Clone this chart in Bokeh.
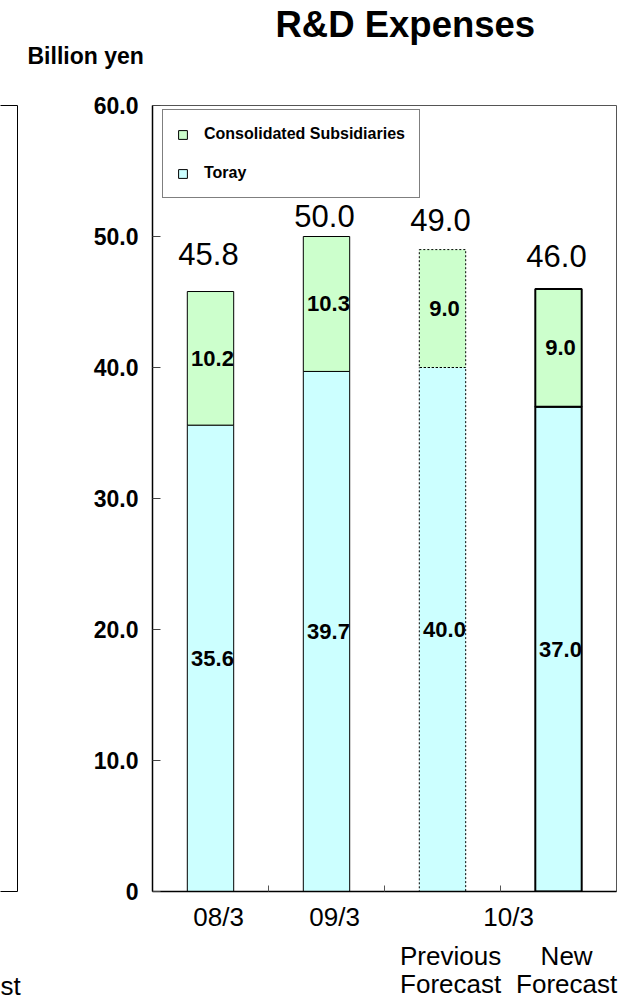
from bokeh.plotting import figure
from bokeh.layouts import row
from bokeh.models import (ColumnDataSource, CDSView, IndexFilter, FixedTicker,
                          LinearAxis, Range1d, Legend, LegendItem, Title)
from bokeh.core.properties import value
from bokeh.embed import file_html
from bokeh.resources import INLINE

FONT = "Liberation Sans"
GREEN = "#CCFFCC"
CYAN = "#CCFFFF"

# ---- data ----
periods = ["08/3", "09/3", "10/3 Previous Forecast", "10/3 New Forecast"]
toray = [35.6, 39.7, 40.0, 37.0]
subsidiaries = [10.2, 10.3, 9.0, 9.0]
totals = [45.8, 50.0, 49.0, 46.0]
year_labels = ["08/3", "09/3", "10/3"]
forecast_labels = ["Previous\nForecast", "New\nForecast"]
y_ticks = [0, 10, 20, 30, 40, 50, 60]

# ---- styles ----
total_label_lift = [38, 21, 30, 33]   # px from bar top to label centre
label_shift = 0.07                     # category label shift (in category widths)

n = len(periods)
xs = [i + 0.5 for i in range(n)]
subs_top = [t + s for t, s in zip(toray, subsidiaries)]
src = ColumnDataSource(dict(
    x=xs,
    toray=toray,
    subs_top=subs_top,
    toray_mid=[t / 2 for t in toray],
    subs_mid=[t + s / 2 for t, s in zip(toray, subsidiaries)],
    toray_txt=[f"{v:.1f}" for v in toray],
    subs_txt=[f"{v:.1f}" for v in subsidiaries],
    total_txt=[f"{v:.1f}" for v in totals],
    total_dy=[-d for d in total_label_lift],
))

p = figure(width=611, height=1003, x_range=Range1d(0, n), y_range=Range1d(0, 60),
           output_backend="svg", toolbar_location=None, title=None,
           min_border_left=130, min_border_right=17, min_border_top=105,
           min_border_bottom=111)
p.xgrid.visible = False
p.ygrid.visible = False
p.outline_line_color = "#555555"
p.outline_line_width = 1
p.background_fill_color = "white"
p.border_fill_color = "white"

styles = [([0, 1], "solid", 1), ([2], "2 2", 1), ([3], "solid", 2)]
legend_refs = {}
for idx, dash, lw in styles:
    view = CDSView(filter=IndexFilter(idx))
    rt = p.vbar(x="x", width=0.4, bottom=0, top="toray", source=src, view=view,
                fill_color=CYAN, line_color="black", line_width=lw, line_dash=dash)
    rs = p.vbar(x="x", width=0.4, bottom="toray", top="subs_top", source=src, view=view,
                fill_color=GREEN, line_color="black", line_width=lw, line_dash=dash)
    if not legend_refs:
        legend_refs = {"t": rt, "s": rs}

# segment labels
for ycol, tcol in (("toray_mid", "toray_txt"), ("subs_mid", "subs_txt")):
    p.text(x="x", y=ycol, text=tcol, source=src, x_offset=2,
           text_font=value(FONT), text_font_style="bold", text_font_size="22px",
           text_align="center", text_baseline="middle", text_color="black")
# totals
p.text(x="x", y="subs_top", text="total_txt", source=src, x_offset=-2, y_offset="total_dy",
       text_font=value(FONT), text_font_size="31px",
       text_align="center", text_baseline="middle", text_color="black")

legend = Legend(items=[LegendItem(label="Consolidated Subsidiaries", renderers=[legend_refs["s"]]),
                       LegendItem(label="Toray", renderers=[legend_refs["t"]])],
                location=(10, 693), margin=0, padding=14, spacing=19,
                glyph_width=11, glyph_height=11, label_height=20, label_standoff=16,
                label_text_font=FONT, label_text_font_style="bold",
                label_text_font_size="16px", label_text_color="black",
                border_line_color="black", border_line_width=1,
                background_fill_color="white", background_fill_alpha=1)
p.add_layout(legend)

# y axis
ya = p.yaxis[0]
ya.ticker = FixedTicker(ticks=y_ticks)
ya.major_label_overrides = {t: ("0" if t == 0 else f"{t:.1f}") for t in y_ticks}
ya.major_label_text_font = FONT
ya.major_label_text_font_style = "bold"
ya.major_label_text_font_size = "23px"
ya.major_label_text_color = "black"
ya.major_label_standoff = 14
ya.major_tick_in = 8
ya.major_tick_out = 0
ya.major_tick_line_color = "#444444"
ya.minor_tick_line_color = None
ya.axis_line_color = "black"
ya.axis_line_width = 1.5

# main x axis: year labels + separator ticks
year_pos = [0.5 + label_shift, 1.5 + label_shift, 3.0 + label_shift]
xa = p.xaxis[0]
xa.ticker = FixedTicker(ticks=year_pos, minor_ticks=list(range(1, n)))
xa.major_label_overrides = dict(zip(year_pos, year_labels))
xa.major_label_text_font = FONT
xa.major_label_text_font_size = "26px"
xa.major_label_text_color = "black"
xa.major_label_standoff = 10
xa.major_tick_line_color = None
xa.major_tick_in = 0
xa.major_tick_out = 0
xa.minor_tick_in = 6
xa.minor_tick_out = 0
xa.minor_tick_line_color = "#555555"
xa.axis_line_color = "black"
xa.axis_line_width = 1.5

fc_pos = [2.5 + label_shift, 3.5 + label_shift]
ax_fc = LinearAxis(ticker=FixedTicker(ticks=fc_pos),
                   major_label_overrides=dict(zip(fc_pos, forecast_labels)),
                   axis_line_color=None, major_tick_line_color=None,
                   minor_tick_line_color=None, major_label_standoff=6,
                   major_tick_in=0, major_tick_out=0,
                   major_label_text_font=FONT, major_label_text_font_size="26px",
                   major_label_text_line_height=0.95,
                   major_label_text_color="black")
p.add_layout(ax_fc, "below")

# spacer, unit label and chart title (stacked upward from the frame)
p.add_layout(Title(text=" ", standoff=34, text_font_size="1px"), "above")
p.add_layout(Title(text="Billion yen", align="left", offset=-125, standoff=0,
                   text_font=FONT, text_font_style="bold", text_font_size="23px",
                   text_color="black"), "above")
p.add_layout(Title(text="R&D Expenses", align="left", offset=123, standoff=-8,
                   text_font=FONT, text_font_style="bold", text_font_size="36.5px",
                   text_color="black"), "above")

# fragment of the neighbouring panel on the left edge
left = figure(width=22, height=1003, x_range=Range1d(0, 1), y_range=Range1d(0, 1),
              output_backend="svg", toolbar_location=None, title=None,
              x_axis_location=None, y_axis_location=None,
              min_border_left=0, min_border_right=5, min_border_top=93,
              min_border_bottom=100)
left.grid.visible = False
left.outline_line_color = None
left.border_fill_color = "white"
for side in ("above", "right"):
    left.add_layout(LinearAxis(ticker=FixedTicker(ticks=[]), axis_line_color="black",
                               axis_line_width=1, major_tick_line_color=None,
                               minor_tick_line_color=None, major_label_text_font_size="1px"),
                    side)
left.add_layout(LinearAxis(ticker=FixedTicker(ticks=[0.59]), major_label_overrides={0.59: "st"},
                           axis_line_color="black", axis_line_width=1,
                           major_tick_line_color=None, minor_tick_line_color=None,
                           major_tick_in=0, major_tick_out=0, major_label_standoff=79,
                           major_label_text_font=FONT, major_label_text_font_size="26px",
                           major_label_text_color="black"), "below")

layout = row(left, p)
open("out.html", "w").write(file_html(layout, INLINE))
